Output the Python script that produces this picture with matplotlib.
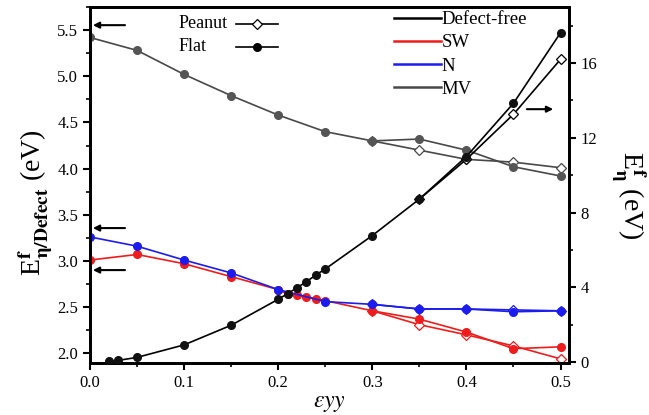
import matplotlib
matplotlib.use("Agg")
import matplotlib.pyplot as plt
from matplotlib.lines import Line2D
from matplotlib.ticker import MultipleLocator

plt.rcParams['font.family'] = ['Liberation Serif', 'DejaVu Serif']
plt.rcParams['mathtext.fontset'] = 'stix'

# ---- data ----
x_main = [0, 0.05, 0.1, 0.15, 0.2, 0.25, 0.3, 0.35, 0.4, 0.45, 0.5]
x_tail = [0.3, 0.35, 0.4, 0.45, 0.5]

mv_flat = [5.42, 5.28, 5.02, 4.79, 4.58, 4.40, 4.30, 4.32, 4.20, 4.02, 3.92]
mv_peanut = [4.30, 4.20, 4.10, 4.07, 4.01]

n_flat = [3.26, 3.16, 3.01, 2.87, 2.69, 2.56, 2.53, 2.48, 2.48, 2.45, 2.46]
n_peanut = [2.53, 2.48, 2.48, 2.47, 2.46]

sw_x = [0, 0.05, 0.1, 0.15, 0.2, 0.21, 0.22, 0.23, 0.24, 0.25, 0.3, 0.35, 0.4, 0.45, 0.5]
sw_flat = [3.01, 3.07, 2.97, 2.83, 2.69, 2.64, 2.63, 2.61, 2.59, 2.57, 2.46, 2.37, 2.23, 2.05, 2.07]
sw_peanut = [2.46, 2.31, 2.20, 2.08, 1.94]

df_x = [0.02, 0.03, 0.05, 0.1, 0.15, 0.2, 0.21, 0.22, 0.23, 0.24, 0.25, 0.3, 0.35, 0.4, 0.45, 0.5]
df_flat = [0.04, 0.09, 0.25, 0.92, 1.97, 3.36, 3.66, 3.98, 4.30, 4.66, 4.98, 6.77, 8.72, 11.0, 13.85, 17.62]
df_peanut_x = [0.35, 0.4, 0.45, 0.5]
df_peanut = [8.72, 10.85, 13.26, 16.2]

structure_labels = ['Peanut', 'Flat']
defect_labels = ['Defect-free', 'SW', 'N', 'MV']

RED = '#ee1c1c'
BLUE = '#1c1cee'
GRAY = '#484848'

fig = plt.figure(figsize=(6.49, 4.15), dpi=100)
ax = fig.add_axes([90/649, 1-363/415, 479/649, 356/415])
ax2 = ax.twinx()

ms = 5.5
lw = 1.2

def peanut(a, x, y, c):
    a.plot(x, y, '-', color=c, lw=lw, marker='D', ms=ms*0.85, mfc='white',
           mec=c, mew=0.9, zorder=2)

def flat(a, x, y, c, mc=None):
    a.plot(x, y, '-', color=c, lw=lw, marker='o', ms=ms, mfc=mc or c,
           mec=mc or c, zorder=3)

peanut(ax, x_tail, mv_peanut, GRAY)
flat(ax, x_main, mv_flat, GRAY, '#555555')
peanut(ax, x_tail, sw_peanut, RED)
flat(ax, sw_x, sw_flat, RED)
peanut(ax, x_tail, n_peanut, BLUE)
flat(ax, x_main, n_flat, BLUE)

peanut(ax2, df_peanut_x, df_peanut, 'black')
flat(ax2, df_x, df_flat, 'black', '#111111')

ax.set_xlim(0, 0.509)
ax.set_ylim(1.895, 5.75)
ax2.set_ylim(-0.05, 19.0)

ax.xaxis.set_major_locator(MultipleLocator(0.1))
ax.xaxis.set_minor_locator(MultipleLocator(0.05))
ax.yaxis.set_major_locator(MultipleLocator(0.5))
ax.yaxis.set_minor_locator(MultipleLocator(0.25))
ax2.yaxis.set_major_locator(MultipleLocator(4))
ax2.yaxis.set_minor_locator(MultipleLocator(2))
ax.xaxis.set_major_formatter(plt.FuncFormatter(lambda v, p: f"{v:.1f}"))
ax.yaxis.set_major_formatter(plt.FuncFormatter(lambda v, p: f"{v:.1f}"))

for a in (ax, ax2):
    for s in a.spines.values():
        s.set_linewidth(2.0)
    a.tick_params(which='major', direction='out', length=5, width=1.5, labelsize=12)
    a.tick_params(which='minor', direction='out', length=3, width=1.2)

ax.set_xlabel(r"$\epsilon yy$", fontsize=17)
ax.xaxis.set_label_coords(0.5, -0.085)
ax.set_ylabel(r"E$^{\mathbf{f}}_{\mathbf{\eta/Defect}}$ (eV)", fontsize=20)
ax.yaxis.set_label_coords(-0.075, 0.45)
ax2.set_ylabel(r"E$^{\mathbf{f}}_{\mathbf{\eta}}$ (eV)", fontsize=20, rotation=270)
ax2.yaxis.set_label_coords(1.165, 0.47)

# left legend: labels left-aligned, handles aligned to their right
h1 = [Line2D([], [], color='black', lw=lw, marker='D', ms=ms*0.85, mfc='white', mec='black', mew=0.9),
      Line2D([], [], color='black', lw=lw, marker='o', ms=ms, mfc='black', mec='black')]
leg1 = ax2.legend(h1, ['', ''], loc='upper left', bbox_to_anchor=(0.29, 0.99),
                  frameon=False, fontsize=13, handlelength=2.3,
                  labelspacing=0.28, handletextpad=0.0, borderaxespad=0.0)
ax2.add_artist(leg1)
for lab, yf in zip(structure_labels, [0.955, 0.89]):
    ax2.text(0.184, yf, lab, transform=ax2.transAxes, fontsize=13, ha='left', va='center')

h2 = [Line2D([], [], color=c, lw=1.8) for c in ['black', RED, BLUE, GRAY]]
ax2.legend(h2, defect_labels, loc='upper left', bbox_to_anchor=(0.62, 1.01),
           frameon=False, fontsize=13.5, handlelength=2.5, labelspacing=0.33,
           handletextpad=0.0, borderaxespad=0.0)

# arrows
ap = dict(arrowstyle='-|>', lw=1.5, color='black', mutation_scale=9, shrinkA=0, shrinkB=0)
for y in (0.949, 0.379, 0.261):
    ax.annotate('', xy=(0.006, y), xytext=(0.073, y), xycoords='axes fraction', arrowprops=ap)
ax.annotate('', xy=(0.967, 0.713), xytext=(0.912, 0.713), xycoords='axes fraction', arrowprops=ap)

fig.savefig('out.png', dpi=100)
